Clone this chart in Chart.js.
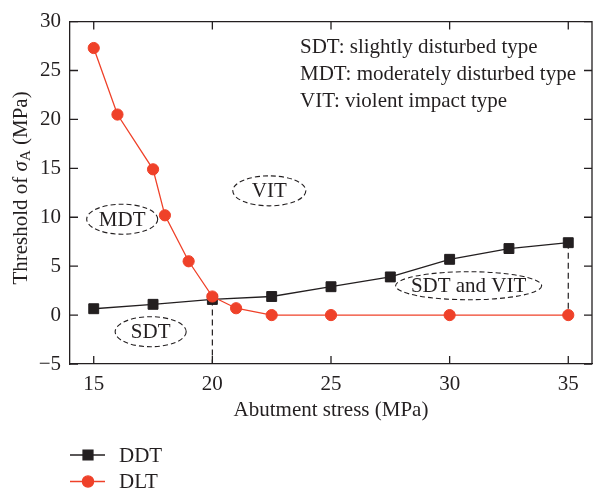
<!DOCTYPE html>
<html>
<head>
<meta charset="utf-8">
<script src="https://cdn.jsdelivr.net/npm/chart.js@4/dist/chart.umd.min.js"></script>
<style>
  html, body { margin: 0; padding: 0; background: #fff; overflow: hidden; }
  #wrap { width: 600px; height: 494px; }
</style>
</head>
<body>
<div id="wrap"><canvas id="chart" width="600" height="494"></canvas></div>
<script>
// abutment stress (MPa) and threshold of sigma_A (MPa)
const ddtStress = [15, 17.5, 20, 22.5, 25, 27.5, 30, 32.5, 35];
const ddtValues = [0.65, 1.1, 1.6, 1.9, 2.9, 3.9, 5.7, 6.8, 7.4];
const dltStress = [15, 16, 17.5, 18, 19, 20, 21, 22.5, 25, 30, 35];
const dltValues = [27.3, 20.5, 14.9, 10.2, 5.5, 1.9, 0.7, 0, 0, 0, 0];
const xTicks = [15, 20, 25, 30, 35];

const notes = [
  'SDT: slightly disturbed type',
  'MDT: moderately disturbed type',
  'VIT: violent impact type'
];
// zone labels, centred in data units
const zones = [
  { text: 'MDT', x: 16.2, y: 9.8, w: 71, h: 30 },
  { text: 'VIT', x: 22.4, y: 12.7, w: 73, h: 30 },
  { text: 'SDT', x: 17.4, y: -1.7, w: 71, h: 30 },
  { text: 'SDT and VIT', x: 30.8, y: 3.0, w: 146, h: 28 }
];

const FONT = '"Liberation Serif", "Times New Roman", serif';
const INK = '#231f20';
const RED = '#ef4129';
const FS = 21;

const toXY = (xs, ys) => xs.map((x, i) => ({ x, y: ys[i] }));

const decor = {
  id: 'decor',
  beforeDatasetsDraw(chart) {
    const { ctx, chartArea: a, scales: { x, y } } = chart;
    ctx.save();
    ctx.strokeStyle = INK;
    ctx.lineWidth = 1.3;
    // top and right spines
    ctx.beginPath();
    ctx.moveTo(a.left, a.top);
    ctx.lineTo(a.right, a.top);
    ctx.lineTo(a.right, a.bottom);
    ctx.stroke();
    // inward ticks on every side
    const len = 8;
    ctx.beginPath();
    x.ticks.forEach(t => {
      const px = x.getPixelForValue(t.value);
      ctx.moveTo(px, a.bottom); ctx.lineTo(px, a.bottom - len);
      ctx.moveTo(px, a.top); ctx.lineTo(px, a.top + len);
    });
    y.ticks.forEach(t => {
      const py = y.getPixelForValue(t.value);
      ctx.moveTo(a.left, py); ctx.lineTo(a.left + len, py);
      ctx.moveTo(a.right, py); ctx.lineTo(a.right - len, py);
    });
    ctx.stroke();

    // dashed drop lines where the two curves meet / separate
    ctx.setLineDash([6, 4]);
    ctx.lineWidth = 1.2;
    const i20 = ddtStress.indexOf(20);
    const i35 = ddtStress.indexOf(35);
    const j35 = dltStress.indexOf(35);
    ctx.beginPath();
    ctx.moveTo(x.getPixelForValue(20), y.getPixelForValue(ddtValues[i20]));
    ctx.lineTo(x.getPixelForValue(20), a.bottom);
    ctx.moveTo(x.getPixelForValue(35), y.getPixelForValue(ddtValues[i35]));
    ctx.lineTo(x.getPixelForValue(35), y.getPixelForValue(dltValues[j35]));
    ctx.stroke();

    // dashed zone ellipses
    ctx.setLineDash([5, 3]);
    ctx.lineWidth = 1.1;
    ctx.fillStyle = INK;
    ctx.font = `${FS}px ${FONT}`;
    ctx.textAlign = 'center';
    ctx.textBaseline = 'middle';
    zones.forEach(z => {
      const cx = x.getPixelForValue(z.x), cy = y.getPixelForValue(z.y);
      ctx.beginPath();
      ctx.ellipse(cx, cy, z.w / 2, z.h / 2, 0, 0, Math.PI * 2);
      ctx.stroke();
      ctx.fillText(z.text, cx, cy + 1);
    });
    ctx.restore();
  },
  afterDraw(chart) {
    const { ctx, chartArea: a } = chart;
    ctx.save();
    ctx.fillStyle = INK;
    ctx.font = `${FS}px ${FONT}`;

    // abbreviations key
    ctx.textAlign = 'left';
    ctx.textBaseline = 'alphabetic';
    notes.forEach((n, i) => ctx.fillText(n, 300, 53 + i * 27));

    // x title
    ctx.textAlign = 'center';
    ctx.textBaseline = 'middle';
    ctx.fillText('Abutment stress (MPa)', (a.left + a.right) / 2, 410);

    // y title with italic sigma and subscript A
    ctx.translate(21, 188);
    ctx.rotate(-Math.PI / 2);
    const parts = [
      { t: 'Threshold of ', f: `${FS}px ${FONT}`, dy: 0 },
      { t: 'σ', f: `italic ${FS}px ${FONT}`, dy: 0 },
      { t: 'A', f: `15px ${FONT}`, dy: 5 },
      { t: ' (MPa)', f: `${FS}px ${FONT}`, dy: 0 }
    ];
    let total = 0;
    parts.forEach(p => { ctx.font = p.f; p.w = ctx.measureText(p.t).width; total += p.w; });
    let cx = -total / 2;
    ctx.textAlign = 'left';
    parts.forEach(p => { ctx.font = p.f; ctx.fillText(p.t, cx, p.dy); cx += p.w; });
    ctx.setTransform(1, 0, 0, 1, 0, 0);

    // legend
    const rows = [chart.data.datasets[1], chart.data.datasets[0]];
    rows.forEach((ds, i) => {
      const ly = 455 + i * 26.5;
      ctx.strokeStyle = ds.borderColor;
      ctx.lineWidth = ds.borderWidth;
      ctx.beginPath();
      ctx.moveTo(70, ly); ctx.lineTo(105, ly);
      ctx.stroke();
      ctx.fillStyle = ds.pointBackgroundColor;
      ctx.strokeStyle = ds.pointBorderColor;
      Chart.helpers.drawPoint(ctx, {
        pointStyle: ds.pointStyle, radius: ds.pointRadius, rotation: 0, borderWidth: 1
      }, 88, ly);
      ctx.fillStyle = INK;
      ctx.font = `${FS}px ${FONT}`;
      ctx.textAlign = 'left';
      ctx.textBaseline = 'middle';
      ctx.fillText(ds.label, 119, ly + 1);
    });
    ctx.restore();
  }
};

new Chart(document.getElementById('chart'), {
  type: 'scatter',
  data: {
    datasets: [{
      label: 'DLT',
      data: toXY(dltStress, dltValues),
      showLine: true,
      borderColor: RED,
      borderWidth: 1.3,
      pointStyle: 'circle',
      pointRadius: 5.6,
      pointBackgroundColor: RED,
      pointBorderColor: RED,
      pointBorderWidth: 1,
      order: 1
    }, {
      label: 'DDT',
      data: toXY(ddtStress, ddtValues),
      showLine: true,
      borderColor: INK,
      borderWidth: 1.3,
      pointStyle: 'rect',
      pointRadius: 7,
      pointBackgroundColor: INK,
      pointBorderColor: INK,
      pointBorderWidth: 1,
      order: 2
    }]
  },
  options: {
    responsive: false,
    animation: false,
    layout: { padding: { left: 0, right: 1, top: 15, bottom: 70 } },
    plugins: { legend: { display: false }, tooltip: { enabled: false } },
    scales: {
      x: {
        type: 'linear',
        min: 14, max: 36,
        afterBuildTicks: s => { s.ticks = xTicks.map(v => ({ value: v })); },
        afterFit: s => { s.height = 60; },
        grid: { drawOnChartArea: false, drawTicks: false },
        border: { display: true, color: INK, width: 1.3 },
        ticks: { color: INK, padding: 8, font: { family: FONT, size: FS } }
      },
      y: {
        min: -5, max: 30,
        afterFit: s => { s.width = 70; },
        grid: { drawOnChartArea: false, drawTicks: false },
        border: { display: true, color: INK, width: 1.3 },
        ticks: {
          stepSize: 5, color: INK, padding: 9, font: { family: FONT, size: FS },
          callback: v => String(v).replace('-', '\u2212')
        }
      }
    }
  },
  plugins: [decor]
});
</script>
</body>
</html>
